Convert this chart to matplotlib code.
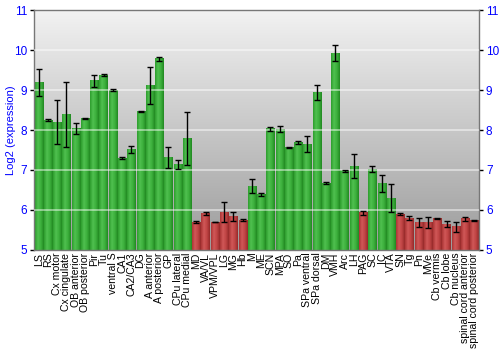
import numpy as np
import matplotlib
matplotlib.use('Agg')
from matplotlib import pyplot as plt
from matplotlib.colors import LinearSegmentedColormap

plt.rcParams['font.family'] = ['Liberation Sans', 'DejaVu Sans']

# Datos
regions = ['LS', 'RS', 'Cx motor', 'Cx cingulate', 'OB anterior', 'OB posterior',
           'Pir', 'Tu', 'ventral S', 'CA1', 'CA2/CA3', 'DG', 'A anterior',
           'A posterior', 'GP', 'CPu lateral', 'CPu medial', 'MD', 'VA/VL',
           'VPM/VPL', 'LG', 'MG', 'Hb', 'M', 'ME', 'SCN', 'MPA', 'SO', 'Pa',
           'SPa ventral', 'SPa dorsal', 'DM', 'VMH', 'Arc', 'LH', 'PAG', 'SC',
           'IC', 'VTA', 'SN', 'Tg', 'Pn', 'MVe', 'Cb vermis', 'Cb lobe',
           'Cb nucleus', 'spinal cord anterior', 'spinal cord posterior']
expr = [9.19, 8.25, 8.19, 8.39, 8.04, 8.28, 9.23, 9.37, 9.00, 7.30, 7.52, 8.46,
        9.11, 9.78, 7.32, 7.14, 7.79, 5.70, 5.92, 5.70, 5.95, 5.83, 5.75, 6.60,
        6.39, 8.03, 8.02, 7.57, 7.69, 7.65, 8.94, 6.67, 9.92, 6.98, 7.10, 5.93,
        7.02, 6.66, 6.30, 5.90, 5.80, 5.69, 5.69, 5.79, 5.65, 5.58, 5.78, 5.73]
err = [0.34, 0.03, 0.55, 0.81, 0.13, 0.01, 0.15, 0.03, 0.03, 0.02, 0.09, 0.01,
       0.47, 0.05, 0.26, 0.11, 0.67, 0.02, 0.04, 0.01, 0.24, 0.11, 0.03, 0.17,
       0.03, 0.05, 0.07, 0.01, 0.03, 0.20, 0.18, 0.02, 0.20, 0.02, 0.30, 0.05,
       0.08, 0.21, 0.34, 0.03, 0.05, 0.12, 0.13, 0.01, 0.07, 0.12, 0.05, 0.01]

ymin, ymax = 5, 11
x = np.arange(len(regions))
w = 0.88

fig = plt.figure(figsize=(5, 3.5), dpi=100)
ax = fig.add_axes([0.068, 0.286, 0.89, 0.685])
ax.set_xlim(-0.5, len(regions) - 0.5)
ax.set_ylim(ymin, ymax)

# Fondo degradado
bg = LinearSegmentedColormap.from_list('bg', ['#9c9c9c', '#f2f2f2'])
ax.imshow(np.linspace(0, 1, 256).reshape(-1, 1), cmap=bg, aspect='auto',
          extent=[-0.5, len(regions) - 0.5, ymin, ymax], origin='lower', zorder=0)

# Barras con degradado horizontal
green = LinearSegmentedColormap.from_list('g', ['#2e9e2e', '#50c050', '#3cb03c', '#228a22'])
red = LinearSegmentedColormap.from_list('r', ['#ac3636', '#d05858', '#c04444', '#962a2a'])
grad = np.linspace(0, 1, 32).reshape(1, -1)
for xi, v in zip(x, expr):
    cm = green if v >= 6 else red
    ax.imshow(grad, cmap=cm, aspect='auto', extent=[xi - w / 2, xi + w / 2, ymin, v],
              zorder=2)

ax.errorbar(x, expr, yerr=err, fmt='none', ecolor='black', elinewidth=1,
            capsize=2, capthick=1, zorder=4)

# Rejilla
for yv in range(6, 11):
    ax.axhline(yv, color='white', lw=1.2, alpha=0.55, zorder=3)

ax.set_xticks(x)
ax.set_xticklabels(regions, rotation=90, fontsize=7.6)
ax.tick_params(axis='x', length=0, pad=2)
ax.set_yticks(range(5, 12))
ax.tick_params(axis='y', labelsize=8.5, labelcolor='blue', length=3, width=1,
               right=True, labelright=True, direction='out', pad=2)
ax.set_ylabel('Log2 (expression)', color='blue', fontsize=8)
ax.yaxis.set_label_coords(-0.04, 0.5)

for s in ax.spines.values():
    s.set_color('#777777')
    s.set_linewidth(1)

plt.savefig('out.png', dpi=100)
